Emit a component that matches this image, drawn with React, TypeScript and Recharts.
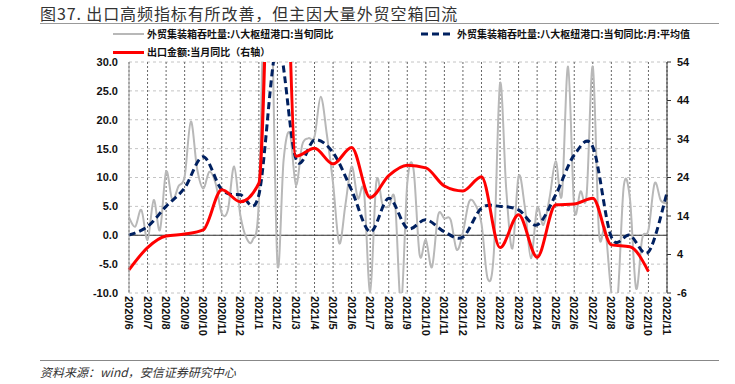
import React from 'react'
import {
  ComposedChart,
  Line,
  XAxis,
  YAxis,
  CartesianGrid,
  ReferenceLine,
} from 'recharts'

// x-axis month labels (one tick per month)
const MONTHS = [
  '2020/6', '2020/7', '2020/8', '2020/9', '2020/10', '2020/11', '2020/12',
  '2021/1', '2021/2', '2021/3', '2021/4', '2021/5', '2021/6', '2021/7',
  '2021/8', '2021/9', '2021/10', '2021/11', '2021/12', '2022/1', '2022/2',
  '2022/3', '2022/4', '2022/5', '2022/6', '2022/7', '2022/8', '2022/9',
  '2022/10', '2022/11',
]

// 外贸集装箱吞吐量:八大枢纽港口:当旬同比 — three readings (旬) per month, left axis
const PORT_TEN_DAY = [
  3.1, 1.5, 4.4, -0.8, 6.1, 0.9, 11.0, 6.1, 8.5, 10.2, 19.7, 11.6,
  8.1, 11.0, 9.0, 3.8, 4.4, 11.9, 3.5, -0.5, -0.8, 6.0, 48, 42,
  -4.8, 13.0, 17.7, 8.7, 15.6, 16.8, 17.1, 24.0, 17.4, 9.0, -1.4, 5.3,
  11.9, 6.4, 7.6, -9.8, 9.3, 5.3, 5.0, 6.0, -12, 9.0, 11.5, -3.4,
  -0.8, -5.5, 3.5, 2.9, 2.7, -2.5, 0.5, 5.8, 5.3, 2.0, -7.5, -3.0,
  26.3, 8.0, -2.3, 10.2, 5.0, -4.0, 4.7, 1.8, 6.4, 12.8, 7.0, 29.2,
  4.7, 7.6, 7.0, 29.2, 0.5, 1.2, -9.8, -11, 8.4, 6.4, -9.2, -0.5,
  0.9, 9.0, 6.0, 5.5,
]

// 当旬同比:月:平均值 — monthly average, left axis
const PORT_MONTH_AVG = [
  0.0, 1.5, 5.0, 8.2, 13.6, 7.9, 7.0, 7.0, 33, 13.2, 16.5, 14.3, 7.8, 0.6,
  6.4, 1.2, 2.7, 0.6, -0.3, 4.7, 5.0, 4.4, 1.8, 7.0, 13.9, 15.3, -0.3, 0.0,
  -2.9, 7.3,
]

// 出口金额:当月同比 — right axis
const EXPORT_YOY = [
  0.0, 5.8, 8.8, 9.3, 10.4, 20.8, 17.7, 22.5, 154.9, 29.5, 31.6, 27.5, 31.8,
  18.8, 24.5, 27.2, 26.5, 21.8, 20.5, 24.2, 5.8, 14.3, 3.3, 16.9, 17.1, 18.6,
  6.5, 6.0, -0.4,
]

const LEFT_TICKS = [-10, -5, 0, 5, 10, 15, 20, 25, 30]
const RIGHT_TICKS = [-6, 4, 14, 24, 34, 44, 54]

const grayData = PORT_TEN_DAY.map((v, i) => ({ t: i / 3, v }))
const avgData = PORT_MONTH_AVG.map((v, i) => ({ t: i, v }))
const exportData = EXPORT_YOY.map((v, i) => ({ t: i, v }))
const monthTicks = MONTHS.map((_, i) => i)

const CJK = '"Noto Sans CJK SC", "Noto Sans", sans-serif'
const NUM = '"Liberation Sans", Arial, sans-serif'

// Excel-like smoothed line (Catmull-Rom through every point)
function smoothCurve(ctx: any) {
  let pts: [number, number][] = []
  return {
    areaStart() {},
    areaEnd() {},
    lineStart() {
      pts = []
    },
    point(x: number, y: number) {
      pts.push([+x, +y])
    },
    lineEnd() {
      if (!pts.length) return
      ctx.moveTo(pts[0][0], pts[0][1])
      for (let i = 0; i < pts.length - 1; i++) {
        const p0 = pts[i - 1] || pts[i]
        const p1 = pts[i]
        const p2 = pts[i + 1]
        const p3 = pts[i + 2] || p2
        ctx.bezierCurveTo(
          p1[0] + (p2[0] - p0[0]) / 6,
          p1[1] + (p2[1] - p0[1]) / 6,
          p2[0] - (p3[0] - p1[0]) / 6,
          p2[1] - (p3[1] - p1[1]) / 6,
          p2[0],
          p2[1],
        )
      }
    },
  }
}

function MonthTick({ x, y, payload }: { x?: number; y?: number; payload?: { value: number } }) {
  const label = MONTHS[payload?.value ?? 0]
  return (
    <text
      transform={`translate(${x},${y}) rotate(90)`}
      textAnchor="start"
      dominantBaseline="central"
      fontSize={11}
      fontWeight={700}
      fontFamily={NUM}
      fill="#111"
    >
      {label}
    </text>
  )
}

const legendText: React.CSSProperties = {
  position: 'absolute',
  fontFamily: CJK,
  fontSize: 10,
  fontWeight: 700,
  lineHeight: '14px',
  color: '#111',
  whiteSpace: 'nowrap',
}

export default function App() {
  return (
    <div style={{ position: 'absolute', left: 0, top: 0, width: 735, height: 384, background: '#fff' }}>
      <ComposedChart
        width={735}
        height={384}
        margin={{ top: 62, right: 28, bottom: 41, left: 0 }}
      >
        <CartesianGrid yAxisId="left" vertical={false} stroke="#c4c4c4" strokeDasharray="3 3" />
        <CartesianGrid yAxisId="left" horizontal={false} stroke="#666" strokeDasharray="2 2" />
        <XAxis
          type="number"
          dataKey="t"
          domain={[0, 29]}
          ticks={monthTicks}
          interval={0}
          axisLine={false}
          tickLine={false}
          tickSize={0}
          tickMargin={3}
          height={50}
          tick={<MonthTick />}
        />
        <YAxis
          yAxisId="left"
          domain={[-10, 30]}
          ticks={LEFT_TICKS}
          allowDataOverflow
          width={129}
          tickFormatter={(v: number) => v.toFixed(1)}
          tick={{ fontSize: 11, fontWeight: 700, fill: '#111', fontFamily: NUM }}
          axisLine={{ stroke: '#999' }}
          tickLine={false}
          tickMargin={5}
        />
        <YAxis
          yAxisId="right"
          orientation="right"
          domain={[-6, 54]}
          ticks={RIGHT_TICKS}
          allowDataOverflow
          width={40}
          tick={{ fontSize: 11, fontWeight: 700, fill: '#111', fontFamily: NUM }}
          axisLine={{ stroke: '#333' }}
          tickLine={{ stroke: '#333' }}
          tickSize={4}
          tickMargin={6}
        />
        <ReferenceLine yAxisId="left" y={0} stroke="#333" strokeWidth={1} />
        <Line
          yAxisId="left"
          data={grayData}
          dataKey="v"
          type={smoothCurve as any}
          stroke="#b8b8b8"
          strokeWidth={2}
          dot={false}
          isAnimationActive={false}
        />
        <Line
          yAxisId="left"
          data={avgData}
          dataKey="v"
          type={smoothCurve as any}
          stroke="#002060"
          strokeWidth={3}
          strokeDasharray="7 4"
          dot={false}
          isAnimationActive={false}
        />
        <Line
          yAxisId="right"
          data={exportData}
          dataKey="v"
          type="monotone"
          stroke="#ff0000"
          strokeWidth={3}
          dot={false}
          isAnimationActive={false}
        />
      </ComposedChart>

      {/* title */}
      <div
        style={{
          position: 'absolute',
          left: 40,
          top: 3,
          fontFamily: CJK,
          fontSize: 16,
          letterSpacing: 0.9,
          lineHeight: '20px',
          color: '#333',
          whiteSpace: 'nowrap',
        }}
      >
        图37. 出口高频指标有所改善，但主因大量外贸空箱回流
      </div>
      <div style={{ position: 'absolute', left: 40, top: 23, width: 679, height: 1, background: '#999' }} />

      {/* legend */}
      <div style={{ position: 'absolute', left: 113, top: 33, width: 31, height: 2, background: '#b8b8b8' }} />
      <div style={{ ...legendText, left: 147, top: 27 }}>外贸集装箱吞吐量:八大枢纽港口:当旬同比</div>
      <svg style={{ position: 'absolute', left: 421, top: 30 }} width={33} height={8}>
        <line x1={0} y1={4} x2={33} y2={4} stroke="#002060" strokeWidth={3} strokeDasharray="7 4" />
      </svg>
      <div style={{ ...legendText, left: 457, top: 27 }}>外贸集装箱吞吐量:八大枢纽港口:当旬同比:月:平均值</div>
      <div style={{ position: 'absolute', left: 113, top: 51, width: 31, height: 3, background: '#ff0000' }} />
      <div style={{ ...legendText, left: 147, top: 45 }}>出口金额:当月同比（右轴）</div>

      {/* source */}
      <div style={{ position: 'absolute', left: 40, top: 360, width: 679, height: 1, background: '#888' }} />
      <div
        style={{
          position: 'absolute',
          left: 40,
          top: 364,
          fontFamily: CJK,
          fontSize: 12,
          fontStyle: 'italic',
          lineHeight: '16px',
          color: '#333',
          whiteSpace: 'nowrap',
        }}
      >
        资料来源：wind，安信证券研究中心
      </div>
    </div>
  )
}
